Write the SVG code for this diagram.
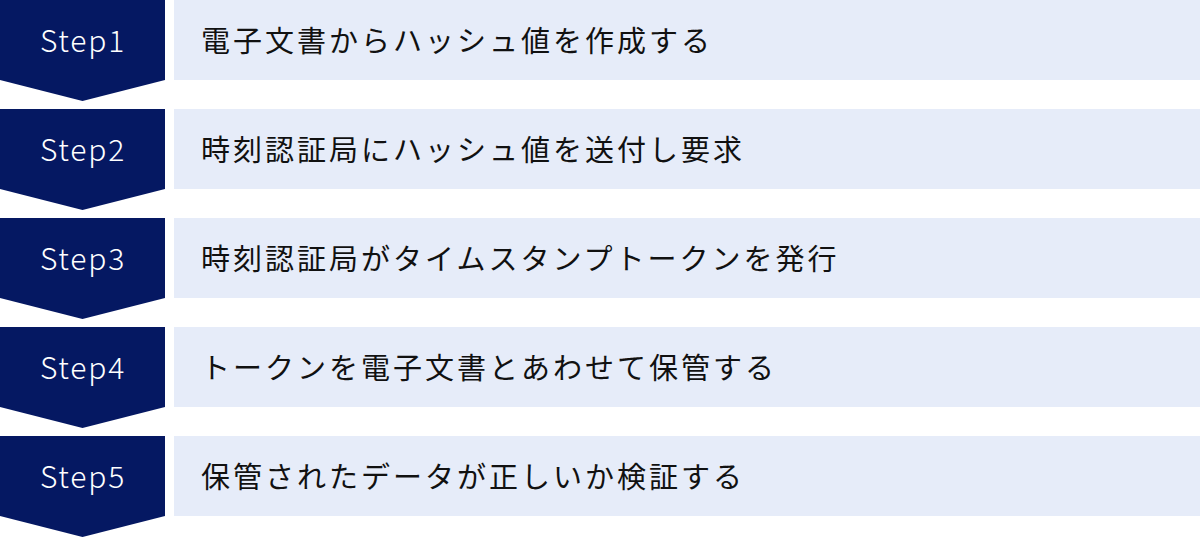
<svg xmlns="http://www.w3.org/2000/svg" width="1200" height="538" viewBox="0 0 1200 538">
<style>
.step{fill:#051862}
.bar{fill:#E6ECF9}
.lbl{font-family:"Noto Sans CJK JP","Noto Sans",sans-serif;font-size:30px;font-weight:300;fill:#FFFFFF;text-anchor:middle;letter-spacing:1.8px}
.txt{font-family:"Noto Sans CJK JP",sans-serif;font-size:29px;fill:#111111;letter-spacing:3px}
</style>
<g id="step1">
<polygon class="step" points="0,0 165,0 165,80 82.5,101 0,80"/>
<rect class="bar" x="174" y="0" width="1026" height="80"/>
<text class="lbl" x="83" y="52">Step1</text>
<text class="txt" x="201" y="52">電子文書からハッシュ値を作成する</text>
</g>
<g id="step2">
<polygon class="step" points="0,109 165,109 165,189 82.5,210 0,189"/>
<rect class="bar" x="174" y="109" width="1026" height="80"/>
<text class="lbl" x="83" y="161">Step2</text>
<text class="txt" x="201" y="161">時刻認証局にハッシュ値を送付し要求</text>
</g>
<g id="step3">
<polygon class="step" points="0,218 165,218 165,298 82.5,319 0,298"/>
<rect class="bar" x="174" y="218" width="1026" height="80"/>
<text class="lbl" x="83" y="270">Step3</text>
<text class="txt" x="201" y="270">時刻認証局がタイムスタンプトークンを発行</text>
</g>
<g id="step4">
<polygon class="step" points="0,327 165,327 165,407 82.5,428 0,407"/>
<rect class="bar" x="174" y="327" width="1026" height="80"/>
<text class="lbl" x="83" y="379">Step4</text>
<text class="txt" x="201" y="379">トークンを電子文書とあわせて保管する</text>
</g>
<g id="step5">
<polygon class="step" points="0,436 165,436 165,516 82.5,537 0,516"/>
<rect class="bar" x="174" y="436" width="1026" height="80"/>
<text class="lbl" x="83" y="488">Step5</text>
<text class="txt" x="201" y="488">保管されたデータが正しいか検証する</text>
</g>
<g id="connectors"/>
</svg>
